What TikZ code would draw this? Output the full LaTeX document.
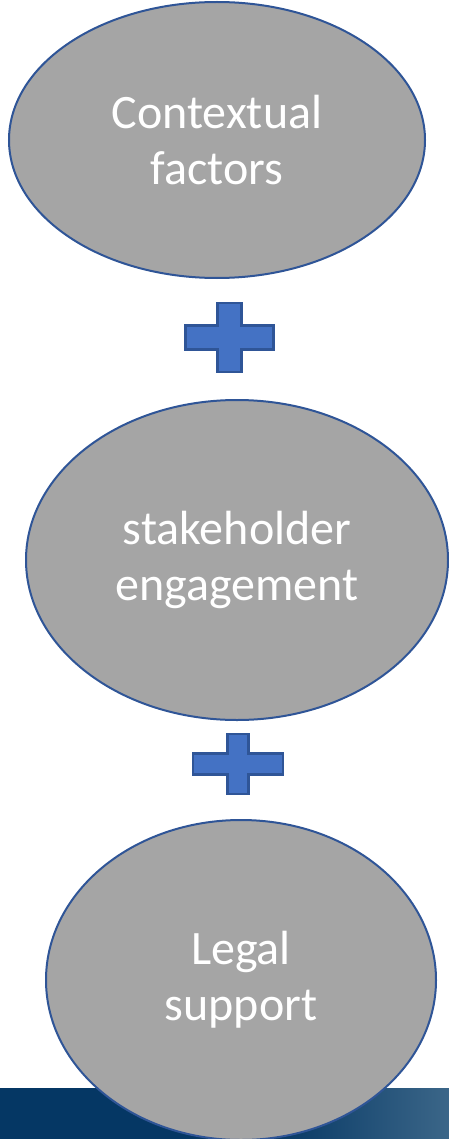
\documentclass[tikz,border=0pt]{standalone}
\usepackage{fontspec}
\setmainfont{Carlito}
\usetikzlibrary{shapes.geometric}
\definecolor{ovalgray}{HTML}{A5A5A5}
\definecolor{ovalblue}{HTML}{2F5597}
\definecolor{plusblue}{HTML}{4472C4}
\definecolor{banddark}{HTML}{053764}
\definecolor{bandlight}{HTML}{3B6688}
% plus sign: half width, half height, half bar thickness
\newcommand{\plusmark}[3]{(-#3,-#2) -- (#3,-#2) -- (#3,-#3) -- (#1,-#3) -- (#1,#3) -- (#3,#3) -- (#3,#2) -- (-#3,#2) -- (-#3,#3) -- (-#1,#3) -- (-#1,-#3) -- (-#3,-#3) -- cycle}
\tikzset{
  oval/.style={ellipse,draw=ovalblue,fill=ovalgray,line width=1pt,text=white,align=center,inner sep=0pt,font=\fontsize{24}{28}\selectfont},
  plussign/.style={draw=ovalblue,fill=plusblue,line width=1.2pt}
}

\begin{document}
\begin{tikzpicture}[x=0.5pt,y=-0.5pt]
  \clip (0,0) rectangle (449,1139);

  % Bottom band
  \fill[banddark] (0,1088) rectangle (270,1139);
  \shade[left color=banddark,right color=bandlight] (270,1088) rectangle (449,1139);

  % Ovals
  \node[oval,minimum width=208pt,minimum height=138pt] (context) at (217,140) {Contextual\\factors};
  \node[oval,minimum width=211pt,minimum height=160pt] (stake) at (237,560) {stakeholder\\engagement};
  \node[oval,minimum width=195pt,minimum height=160pt] (legal) at (241,980) {Legal\\support};

  % Plus signs
  \coordinate (plusA) at (229.5,337.5);
  \coordinate (plusB) at (238,764);
  \draw[plussign,shift={(plusA)}] \plusmark{44}{34.5}{12};
  \draw[plussign,shift={(plusB)}] \plusmark{45}{30}{10.5};

\end{tikzpicture}
\end{document}
